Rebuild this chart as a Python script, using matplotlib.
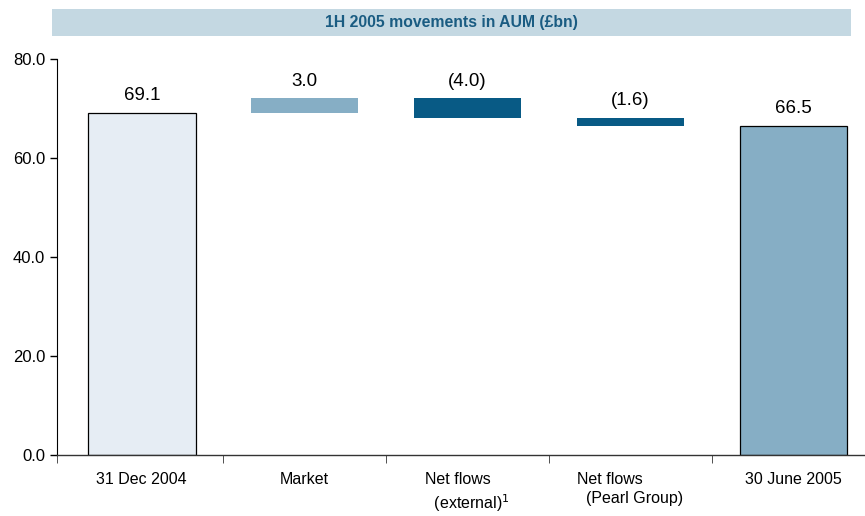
import numpy as np
import matplotlib.pyplot as plt

plt.rcParams['font.family'] = ['Liberation Sans', 'DejaVu Sans']

# chart data
categories = ['31 Dec 2004', 'Market', 'Net flows\n  (external)$^{1}$',
              'Net flows\n  (Pearl Group)', '30 June 2005']
values = [69.1, 3.0, -4.0, -1.6, 66.5]
is_total = [True, False, False, False, True]
colors = ['#E6EDF4', '#86AEC5', '#085A85', '#085A85', '#86AEC5']
yticks = [0, 20, 40, 60, 80]

# waterfall bottoms / heights
bottoms = []
heights = []
running = 0.0
for v, tot in zip(values, is_total):
    if tot:
        bottoms.append(0.0)
        heights.append(v)
        running = v
    else:
        new = running + v
        bottoms.append(min(running, new))
        heights.append(abs(v))
        running = new

fig = plt.figure(figsize=(8.65, 5.16), dpi=100)
ax = fig.add_axes([0.066, 0.118, 0.934, 0.768])

x = np.arange(len(categories))
for i in range(len(x)):
    ec = 'black' if is_total[i] else 'none'
    lw = 0.9 if is_total[i] else 0
    ax.bar(x[i], heights[i], bottom=bottoms[i], width=0.66,
           color=colors[i], edgecolor=ec, linewidth=lw, zorder=2)
    v = values[i]
    txt = f'{v:.1f}' if v >= 0 else f'({abs(v):.1f})'
    ax.annotate(txt, (x[i], bottoms[i] + heights[i]), xytext=(0, 6),
                textcoords='offset points', ha='center', va='bottom',
                fontsize=13.5)

x0 = -0.52
ax.set_xlim(x0, 4.44)
ax.set_ylim(0, 80)
ax.set_yticks(yticks)
ax.set_yticklabels([f'{t:.1f}' for t in yticks], fontsize=12)

ax.set_xticks(x)
ax.set_xticklabels(categories, fontsize=11.5, multialignment='left',
                   linespacing=1.35)
ax.tick_params(axis='x', which='major', length=0, pad=12)
ax.set_xticks([x0] + list(np.arange(0.5, 4.0, 1.0)), minor=True)
ax.tick_params(axis='x', which='minor', length=6, color='#333333')
ax.tick_params(axis='y', length=5, width=1)

for s in ['top', 'right']:
    ax.spines[s].set_visible(False)
ax.spines['left'].set_color('black')
ax.spines['bottom'].set_color('#333333')
ax.spines['bottom'].set_linewidth(1.0)

# title banner
fig.patches.append(plt.Rectangle((0.060, 0.930), 0.924, 0.052,
                                 transform=fig.transFigure,
                                 facecolor='#C4D8E2', edgecolor='none'))
fig.text(0.522, 0.956, '1H 2005 movements in AUM (£bn)', ha='center',
         va='center', fontsize=11.3, fontweight='bold', color='#1A5C82')

fig.savefig('out.png', dpi=100)
